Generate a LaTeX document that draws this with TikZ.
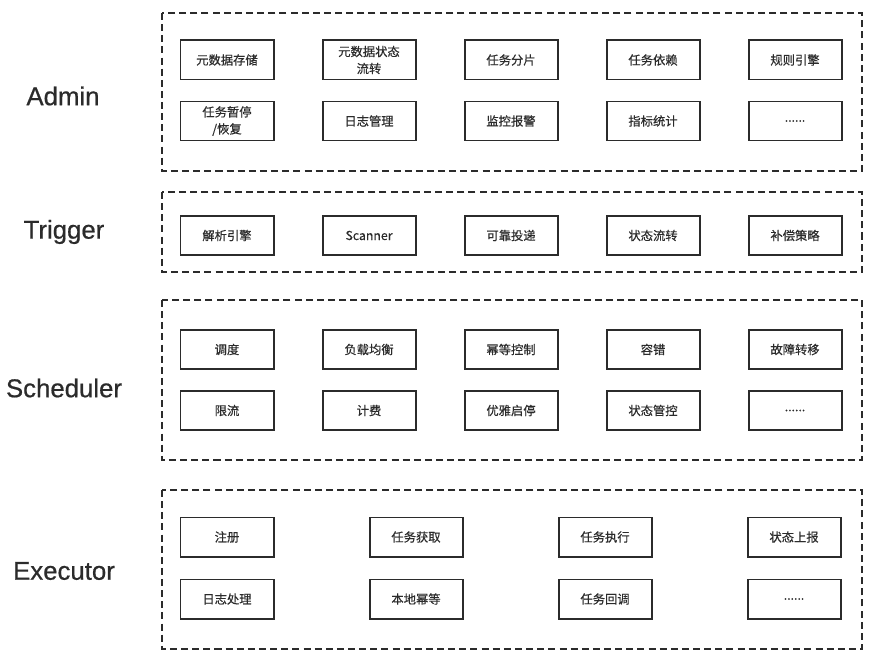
\documentclass[tikz,border=0pt]{standalone}
\usepackage{fontspec}
\setmainfont{Noto Sans CJK SC}[FakeBold=0.5]
\newfontfamily\layerfont{Liberation Sans}[FakeBold=0.6]
\definecolor{ink}{HTML}{2B2B2B}

\tikzset{
  item/.style={draw=ink, line width=1.7pt, minimum width=2.79cm, minimum height=1.17cm,
    inner sep=0pt, align=center, text=ink, font=\fontsize{10.5}{14.5}\selectfont},
  group/.style={draw=ink, line width=1.2pt, dash pattern=on 6pt off 3.5pt},
  layer/.style={text=ink, font=\layerfont\fontsize{22}{26}\selectfont}
}

\begin{document}
\begin{tikzpicture}[x=0.03cm, y=-0.03cm, node distance=4.26cm]
    \useasboundingbox (0,0) rectangle (875,654);

    % Admin
    \draw[group] (162,13) rectangle (862,171);
    \node[layer] (admin) at (63,96) {Admin};
    \node[item] (a1) at (227,60) {元数据存储};
    \node[item] (a2) [right of=a1] {元数据状态\\流转};
    \node[item] (a3) [right of=a2] {任务分片};
    \node[item] (a4) [right of=a3] {任务依赖};
    \node[item] (a5) [right of=a4] {规则引擎};
    \node[item] (a6) at (227,121) {任务暂停\\/恢复};
    \node[item] (a7) [right of=a6] {日志管理};
    \node[item] (a8) [right of=a7] {监控报警};
    \node[item] (a9) [right of=a8] {指标统计};
    \node[item] (a10) [right of=a9] {......};

    % Trigger
    \draw[group] (162,192) rectangle (862,272);
    \node[layer] (trigger) at (64,232) {Trigger};
    \node[item] (t1) at (227,235.5) {解析引擎};
    \node[item] (t2) [right of=t1] {Scanner};
    \node[item] (t3) [right of=t2] {可靠投递};
    \node[item] (t4) [right of=t3] {状态流转};
    \node[item] (t5) [right of=t4] {补偿策略};

    % Scheduler
    \draw[group] (162,300) rectangle (862,460);
    \node[layer] (scheduler) at (64,388) {Scheduler};
    \node[item] (s1) at (227,349.5) {调度};
    \node[item] (s2) [right of=s1] {负载均衡};
    \node[item] (s3) [right of=s2] {幂等控制};
    \node[item] (s4) [right of=s3] {容错};
    \node[item] (s5) [right of=s4] {故障转移};
    \node[item] (s6) at (227,410.5) {限流};
    \node[item] (s7) [right of=s6] {计费};
    \node[item] (s8) [right of=s7] {优雅启停};
    \node[item] (s9) [right of=s8] {状态管控};
    \node[item] (s10) [right of=s9] {......};

    % Executor
    \draw[group] (162,490) rectangle (862,649);
    \node[layer] (executor) at (64,571) {Executor};
    \begin{scope}[node distance=5.67cm]
    \node[item] (e1) at (227,537) {注册};
    \node[item] (e2) [right of=e1] {任务获取};
    \node[item] (e3) [right of=e2] {任务执行};
    \node[item] (e4) [right of=e3] {状态上报};
    \node[item] (e5) at (227,599) {日志处理};
    \node[item] (e6) [right of=e5] {本地幂等};
    \node[item] (e7) [right of=e6] {任务回调};
    \node[item] (e8) [right of=e7] {......};
    \end{scope}
\end{tikzpicture}
\end{document}
